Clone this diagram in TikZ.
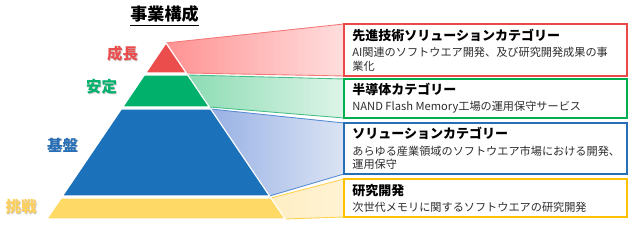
\documentclass[tikz,border=0pt]{standalone}
\usepackage{fontspec}
\setmainfont{Noto Sans CJK JP}
\usepackage{xcolor}
\usetikzlibrary{positioning}

\definecolor{redLayer}{RGB}{235,77,77}
\definecolor{redLine}{RGB}{236,72,72}
\definecolor{redFunL}{RGB}{255,146,146}
\definecolor{redFunR}{RGB}{255,222,222}
\definecolor{redEdge}{RGB}{245,120,120}
\definecolor{greenLayer}{RGB}{0,176,107}
\definecolor{greenLine}{RGB}{0,176,80}
\definecolor{greenFunL}{RGB}{140,220,180}
\definecolor{greenFunR}{RGB}{222,244,232}
\definecolor{greenEdge}{RGB}{70,190,135}
\definecolor{blueLayer}{RGB}{27,113,186}
\definecolor{blueLine}{RGB}{38,110,182}
\definecolor{blueFunL}{RGB}{152,177,228}
\definecolor{blueFunR}{RGB}{220,228,244}
\definecolor{blueEdge}{RGB}{85,140,210}
\definecolor{yellowLayer}{RGB}{255,217,102}
\definecolor{yellowLine}{RGB}{255,192,0}
\definecolor{yellowFunL}{RGB}{255,238,196}
\definecolor{yellowFunR}{RGB}{255,243,212}
\definecolor{yellowEdge}{RGB}{255,210,80}
\definecolor{descGray}{RGB}{45,45,45}

\tikzset{
    layer/.style={draw=white, line width=0.7pt},
    funnel/.style={line width=0.5pt},
    catbox/.style={shape=rectangle, draw, line width=1.3pt, fill=white, anchor=north west, inner sep=0pt, outer sep=0pt, minimum width=5.66cm},
    cattitle/.style={anchor=base west, inner sep=0pt, font=\fontsize{7.4}{8.8}\selectfont\bfseries},
    catdesc/.style={anchor=base west, inner sep=0pt, text=descGray, font=\fontsize{6.35}{7.6}\selectfont},
    tier/.style={inner sep=0pt, font=\fontsize{8.8}{10}\selectfont\bfseries},
    tiershadow/.style={tier, text=black!22}
}

\begin{document}
\begin{tikzpicture}[transform shape, x=0.02cm, y=-0.02cm]
        	\useasboundingbox (0,0) rectangle (635,225);
        	% Boxes on the right:
        	\node[catbox, draw=redLine, minimum height=1.04cm] (rbox) at (344,24) {};
        	\node[catbox, draw=greenLine, minimum height=0.78cm] (gbox) at (344,79) {};
        	\node[catbox, draw=blueLine, minimum height=1.02cm] (bbox) at (344,123) {};
        	\node[catbox, draw=yellowLine, minimum height=0.76cm] (ybox) at (344,179) {};
        	% Pyramid corners:
        	\coordinate (apex) at (166,43);
        	\coordinate (r1) at (145.7,73);  \coordinate (r2) at (186.3,73);
        	\coordinate (g1) at (144.3,75);  \coordinate (g2) at (187.7,75);
        	\coordinate (g3) at (122.7,107); \coordinate (g4) at (209.3,107);
        	\coordinate (b1) at (121.3,109); \coordinate (b2) at (210.7,109);
        	\coordinate (b3) at (62.4,196);  \coordinate (b4) at (269.6,196);
        	\coordinate (y1) at (61.1,198);  \coordinate (y2) at (270.9,198);
        	\coordinate (y3) at (46.8,219);  \coordinate (y4) at (285.2,219);
        	% Funnels from the layers to the boxes:
        	\draw[funnel, draw=redEdge, left color=redFunL, right color=redFunR] (apex) -- (rbox.north west) -- (rbox.south west) -- (r2) -- cycle;
        	\draw[funnel, draw=greenEdge, left color=greenFunL, right color=greenFunR] (g2) -- (gbox.north west) -- (gbox.south west) -- (g4) -- cycle;
        	\draw[funnel, draw=blueEdge, left color=blueFunL, right color=blueFunR] (b2) -- (bbox.north west) -- (bbox.south west) -- (b4) -- cycle;
        	\draw[funnel, draw=yellowEdge, left color=yellowFunL, right color=yellowFunR] (y2) -- (ybox.north west) -- (ybox.south west) -- (y4) -- cycle;
        	% Layers:
        	\filldraw[layer, fill=redLayer] (apex) -- (r2) -- (r1) -- cycle;
        	\filldraw[layer, fill=greenLayer] (g1) -- (g2) -- (g4) -- (g3) -- cycle;
        	\filldraw[layer, fill=blueLayer] (b1) -- (b2) -- (b4) -- (b3) -- cycle;
        	\filldraw[layer, fill=yellowLayer] (y1) -- (y2) -- (y4) -- (y3) -- cycle;
        	% Box borders again on top:
        	\node[catbox, draw=redLine, fill=none, minimum height=1.04cm] at (344,24) {};
        	\node[catbox, draw=greenLine, fill=none, minimum height=0.78cm] at (344,79) {};
        	\node[catbox, draw=blueLine, fill=none, minimum height=1.02cm] at (344,123) {};
        	\node[catbox, draw=yellowLine, fill=none, minimum height=0.76cm] at (344,179) {};
        	% Texts in the boxes:
        	\node[cattitle] (rtitle) at (352,41) {先進技術ソリューションカテゴリー};
        	\node[catdesc] (rdesc) at (352,57) {AI関連のソフトウエア開発、及び研究開発成果の事};
        	\node[catdesc] (rdesc2) at (352,70.5) {業化};
        	\node[cattitle] (gtitle) at (352,94.5) {半導体カテゴリー};
        	\node[catdesc] (gdesc) at (352,111) {NAND Flash Memory工場の運用保守サービス};
        	\node[cattitle] (btitle) at (352,138.5) {ソリューションカテゴリー};
        	\node[catdesc] (bdesc) at (352,156) {あらゆる産業領域のソフトウエア市場における開発、};
        	\node[catdesc] (bdesc2) at (352,169) {運用保守};
        	\node[cattitle] (ytitle) at (352,196) {研究開発};
        	\node[catdesc] (ydesc) at (352,211.5) {次世代メモリに関するソフトウエアの研究開発};
        	% Tier labels:
        	\node[tiershadow] at (123.3,54.8) {成長};
        	\node[tier, text=redLayer] (seicho) at (122.5,54) {成長};
        	\node[tiershadow] at (102.3,87.8) {安定};
        	\node[tier, text=greenLayer] (antei) at (101.5,87) {安定};
        	\node[tiershadow] at (63.3,145.8) {基盤};
        	\node[tier, text=blueLine] (kiban) at (62.5,145) {基盤};
        	\node[tiershadow] at (21.8,207.8) {挑戦};
        	\node[tier, text=yellowLayer!90!orange] (chosen) at (21,207) {挑戦};
        	% Heading:
        	\node[inner sep=0pt, font=\fontsize{9.7}{11}\selectfont\bfseries] (head) at (164.5,16) {\underline{事業構成}};
        \end{tikzpicture}
\end{document}
